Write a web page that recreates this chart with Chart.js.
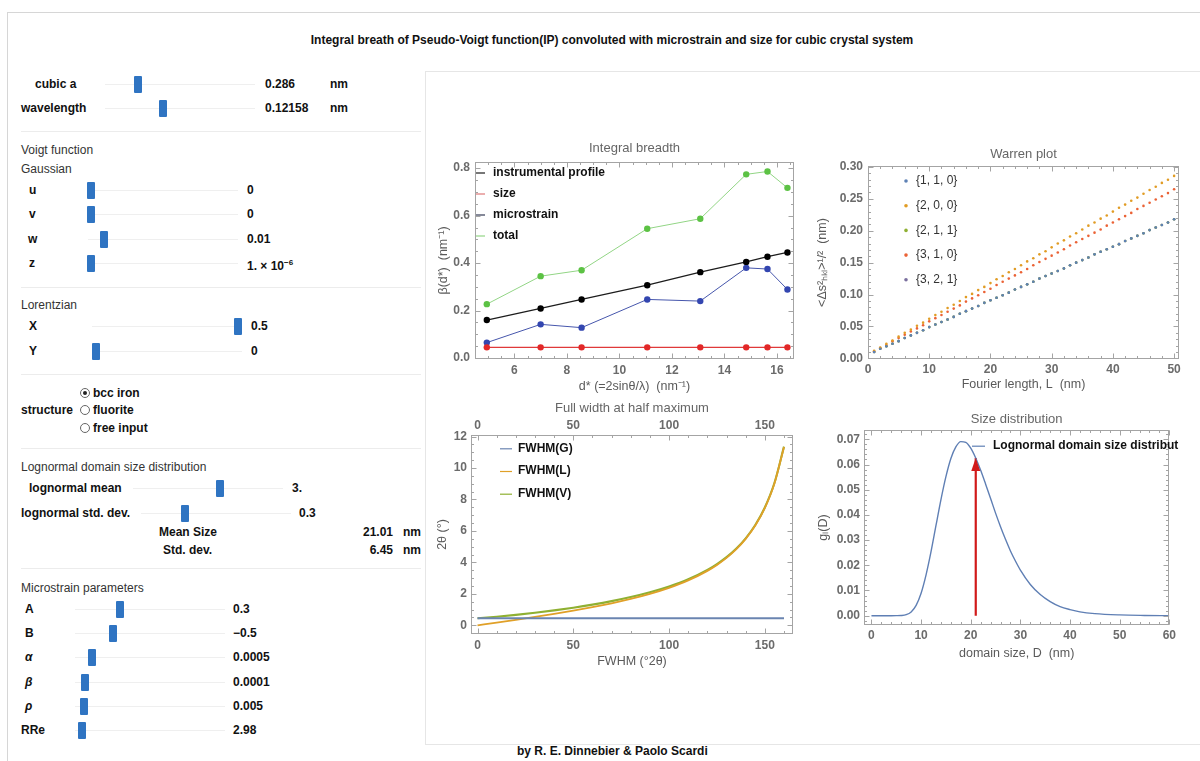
<!DOCTYPE html>
<html>
<head>
<meta charset="utf-8">
<title>Integral breadth of Pseudo-Voigt function</title>
<script src="https://cdn.jsdelivr.net/npm/chart.js@4.4.1/dist/chart.umd.min.js"></script>
<style>
  html, body { margin: 0; padding: 0; background: #fff; }
  body { width: 1200px; height: 761px; position: relative; overflow: hidden;
         font-family: 'Liberation Sans', Arial, sans-serif; color: #111; }
  .a { position: absolute; white-space: nowrap; }
  .b { font-weight: bold; font-size: 12px; line-height: 14px; }
  .h { font-size: 12px; line-height: 14px; color: #333; }
  .track { height: 1px; background: #efefef; }
  .knob { width: 8px; height: 17px; background: #2f74c2; border-radius: 1px; }
  .sep { left: 21px; width: 400px; height: 0; border-top: 1px solid #ececec; }
  .radio { width: 10px; height: 10px; border: 1px solid #666; border-radius: 50%; box-sizing: border-box; }
  .radio.on::after { content: ''; position: absolute; left: 2px; top: 2px; width: 4px; height: 4px; border-radius: 50%; background: #222; }
  #frameTop { left: 7px; top: 12px; width: 1200px; border-top: 1px solid #d6d6d6; }
  #frameLeft { left: 7px; top: 12px; height: 760px; border-left: 1px solid #d6d6d6; }
  #title { left: 300px; width: 624px; top: 33px; text-align: center; font-weight: bold; font-size: 12px; }
  #panel { left: 425px; top: 71px; width: 790px; height: 672px; border: 1px solid #e6e6e6; }
  #credit { left: 517px; top: 744px; font-weight: bold; font-size: 12px; }
  canvas { position: absolute; }
</style>
</head>
<body>
<div id="frameTop" class="a"></div>
<div id="frameLeft" class="a"></div>
<div id="title" class="a">Integral breath of Pseudo-Voigt function(IP) convoluted with microstrain and size for cubic crystal system</div>
<div id="panel" class="a"></div>

<!-- lattice and radiation -->
<div class="a b" style="left:35px;top:77px">cubic a</div>
<div class="a track" style="left:105px;top:84px;width:150px"></div>
<div class="a knob" style="left:134px;top:76px"></div>
<div class="a b" style="left:265px;top:77px">0.286</div>
<div class="a b" style="left:330px;top:77px">nm</div>
<div class="a b" style="left:21px;top:101px">wavelength</div>
<div class="a track" style="left:105px;top:108px;width:150px"></div>
<div class="a knob" style="left:159px;top:100px"></div>
<div class="a b" style="left:265px;top:101px">0.12158</div>
<div class="a b" style="left:330px;top:101px">nm</div>
<div class="a sep" style="top:131px"></div>

<!-- Voigt function -->
<div class="a h" style="left:21px;top:143px">Voigt function</div>
<div class="a h" style="left:21px;top:162px">Gaussian</div>
<div class="a b" style="left:29px;top:183px">u</div>
<div class="a track" style="left:88px;top:190px;width:150px"></div>
<div class="a knob" style="left:87px;top:182px"></div>
<div class="a b" style="left:247px;top:183px">0</div>
<div class="a b" style="left:29px;top:207px">v</div>
<div class="a track" style="left:88px;top:214px;width:150px"></div>
<div class="a knob" style="left:87px;top:206px"></div>
<div class="a b" style="left:247px;top:207px">0</div>
<div class="a b" style="left:28px;top:232px">w</div>
<div class="a track" style="left:88px;top:239px;width:150px"></div>
<div class="a knob" style="left:100px;top:231px"></div>
<div class="a b" style="left:247px;top:232px">0.01</div>
<div class="a b" style="left:29px;top:256px">z</div>
<div class="a track" style="left:88px;top:263px;width:150px"></div>
<div class="a knob" style="left:87px;top:255px"></div>
<div class="a b" style="left:247px;top:256px">1. × 10<sup style="font-size:8px">−6</sup></div>
<div class="a sep" style="top:287px"></div>

<div class="a h" style="left:21px;top:298px">Lorentzian</div>
<div class="a b" style="left:29px;top:319px">X</div>
<div class="a track" style="left:92px;top:326px;width:150px"></div>
<div class="a knob" style="left:234px;top:318px"></div>
<div class="a b" style="left:251px;top:319px">0.5</div>
<div class="a b" style="left:29px;top:344px">Y</div>
<div class="a track" style="left:92px;top:351px;width:150px"></div>
<div class="a knob" style="left:92px;top:343px"></div>
<div class="a b" style="left:251px;top:344px">0</div>
<div class="a sep" style="top:374px"></div>

<!-- crystal structure -->
<div class="a b" style="left:21px;top:403px">structure</div>
<div class="a radio on" style="left:80px;top:388px"></div>
<div class="a b" style="left:93px;top:386px">bcc iron</div>
<div class="a radio" style="left:80px;top:405px"></div>
<div class="a b" style="left:93px;top:403px">fluorite</div>
<div class="a radio" style="left:80px;top:423px"></div>
<div class="a b" style="left:93px;top:421px">free input</div>
<div class="a sep" style="top:448px"></div>

<!-- lognormal size distribution -->
<div class="a h" style="left:21px;top:460px">Lognormal domain size distribution</div>
<div class="a b" style="left:29px;top:481px">lognormal mean</div>
<div class="a track" style="left:133px;top:488px;width:150px"></div>
<div class="a knob" style="left:216px;top:480px"></div>
<div class="a b" style="left:292px;top:481px">3.</div>
<div class="a b" style="left:21px;top:506px">lognormal std. dev.</div>
<div class="a track" style="left:141px;top:513px;width:150px"></div>
<div class="a knob" style="left:181px;top:505px"></div>
<div class="a b" style="left:299px;top:506px">0.3</div>
<div class="a b" style="left:159px;top:525px">Mean Size</div>
<div class="a b" style="left:333px;top:525px;width:60px;text-align:right">21.01</div>
<div class="a b" style="left:403px;top:525px">nm</div>
<div class="a b" style="left:163px;top:543px">Std. dev.</div>
<div class="a b" style="left:333px;top:543px;width:60px;text-align:right">6.45</div>
<div class="a b" style="left:403px;top:543px">nm</div>
<div class="a sep" style="top:568px"></div>

<!-- microstrain -->
<div class="a h" style="left:21px;top:581px">Microstrain parameters</div>
<div class="a b" style="left:25px;top:602px">A</div>
<div class="a track" style="left:75px;top:609px;width:150px"></div>
<div class="a knob" style="left:116px;top:601px"></div>
<div class="a b" style="left:233px;top:602px">0.3</div>
<div class="a b" style="left:25px;top:626px">B</div>
<div class="a track" style="left:75px;top:633px;width:150px"></div>
<div class="a knob" style="left:109px;top:625px"></div>
<div class="a b" style="left:233px;top:626px">−0.5</div>
<div class="a b" style="left:25px;top:650px;font-style:italic">α</div>
<div class="a track" style="left:75px;top:657px;width:150px"></div>
<div class="a knob" style="left:88px;top:649px"></div>
<div class="a b" style="left:233px;top:650px">0.0005</div>
<div class="a b" style="left:25px;top:675px;font-style:italic">β</div>
<div class="a track" style="left:75px;top:682px;width:150px"></div>
<div class="a knob" style="left:81px;top:674px"></div>
<div class="a b" style="left:233px;top:675px">0.0001</div>
<div class="a b" style="left:25px;top:699px;font-style:italic">ρ</div>
<div class="a track" style="left:75px;top:706px;width:150px"></div>
<div class="a knob" style="left:80px;top:698px"></div>
<div class="a b" style="left:233px;top:699px">0.005</div>
<div class="a b" style="left:21px;top:723px">RRe</div>
<div class="a track" style="left:75px;top:730px;width:150px"></div>
<div class="a knob" style="left:78px;top:722px"></div>
<div class="a b" style="left:233px;top:723px">2.98</div>

<canvas id="cBreadth" width="370" height="262" style="left:430px;top:138px"></canvas>
<canvas id="cWarren" width="385" height="262" style="left:800px;top:138px"></canvas>
<canvas id="cFwhm" width="370" height="272" style="left:430px;top:398px"></canvas>
<canvas id="cSize" width="379" height="265" style="left:800px;top:405px"></canvas>

<div id="credit" class="a">by R. E. Dinnebier &amp; Paolo Scardi</div>

<script>
// ---- integral breadths of the bcc iron reflections (nm^-1) ----
const dStar      = [4.95, 7.0, 8.56, 11.06, 13.08, 14.83, 15.64, 16.4];
const betaInstr  = [0.160, 0.209, 0.247, 0.307, 0.362, 0.405, 0.427, 0.445];
const betaSize   = [0.045, 0.045, 0.045, 0.045, 0.045, 0.045, 0.045, 0.045];
const betaStrain = [0.065, 0.142, 0.128, 0.247, 0.240, 0.380, 0.375, 0.289];
const betaTotal  = [0.227, 0.345, 0.370, 0.545, 0.587, 0.774, 0.786, 0.717];

// ---- Warren plot: rms strain vs Fourier length ----
const fourierL = [1, 2, 3, 4, 5, 6, 7, 8, 9, 10, 11, 12, 13, 14, 15, 16, 17, 18, 19, 20,
  21, 22, 23, 24, 25, 26, 27, 28, 29, 30, 31, 32, 33, 34, 35, 36, 37, 38, 39, 40,
  41, 42, 43, 44, 45, 46, 47, 48, 49, 50];
// {1,1,0}, {2,1,1} and {3,2,1} share the same contrast factor
const warren110 = [0.010, 0.015, 0.019, 0.023, 0.027, 0.032, 0.036, 0.040, 0.044, 0.049,
  0.053, 0.057, 0.061, 0.065, 0.070, 0.074, 0.078, 0.082, 0.087, 0.091,
  0.095, 0.099, 0.103, 0.108, 0.112, 0.116, 0.120, 0.125, 0.129, 0.133,
  0.137, 0.141, 0.146, 0.150, 0.154, 0.158, 0.163, 0.167, 0.171, 0.175,
  0.179, 0.184, 0.188, 0.192, 0.196, 0.201, 0.205, 0.209, 0.213, 0.218];
const warren200 = [0.012, 0.017, 0.023, 0.028, 0.034, 0.040, 0.045, 0.051, 0.056, 0.062,
  0.068, 0.073, 0.079, 0.084, 0.090, 0.096, 0.101, 0.107, 0.112, 0.118,
  0.124, 0.129, 0.135, 0.140, 0.146, 0.152, 0.157, 0.163, 0.168, 0.174,
  0.180, 0.185, 0.191, 0.196, 0.202, 0.208, 0.213, 0.219, 0.224, 0.230,
  0.236, 0.241, 0.247, 0.252, 0.258, 0.264, 0.269, 0.275, 0.280, 0.286];
const warren211 = warren110;
const warren310 = [0.011, 0.016, 0.021, 0.027, 0.032, 0.037, 0.042, 0.047, 0.052, 0.058,
  0.063, 0.068, 0.073, 0.078, 0.083, 0.089, 0.094, 0.099, 0.104, 0.109,
  0.115, 0.120, 0.125, 0.130, 0.135, 0.140, 0.146, 0.151, 0.156, 0.161,
  0.166, 0.171, 0.177, 0.182, 0.187, 0.192, 0.197, 0.202, 0.208, 0.213,
  0.218, 0.223, 0.228, 0.234, 0.239, 0.244, 0.249, 0.254, 0.259, 0.265];
const warren321 = warren110;

// ---- FWHM of the Gaussian, Lorentzian and Voigt components (deg 2theta) ----
const twoTheta = [0, 10, 20, 30, 40, 50, 60, 70, 80, 90, 100, 110, 120, 125, 130, 135, 140, 145, 150, 155, 160];
const fwhmG = [0.45, 0.45, 0.45, 0.45, 0.45, 0.45, 0.45, 0.45, 0.45, 0.45, 0.45,
  0.45, 0.45, 0.45, 0.45, 0.45, 0.45, 0.45, 0.45, 0.45, 0.45];
const fwhmL = [0, 0.175, 0.353, 0.536, 0.728, 0.933, 1.155, 1.400, 1.678, 2.000, 2.384,
  2.856, 3.464, 3.842, 4.290, 4.828, 5.495, 6.343, 7.464, 9.021, 11.343];
const fwhmV = [0.45, 0.551, 0.668, 0.801, 0.952, 1.124, 1.319, 1.540, 1.798, 2.103, 2.472,
  2.930, 3.526, 3.898, 4.340, 4.873, 5.534, 6.377, 7.493, 9.045, 11.362];

// ---- lognormal domain size distribution ----
const domainD = [0, 1, 2, 3, 4, 5, 6, 7, 8, 9, 10, 11, 12, 13, 14, 15, 16, 17, 18, 19, 20,
  21, 22, 23, 24, 25, 26, 27, 28, 29, 30, 32, 34, 36, 38, 40, 42, 45, 50, 55, 60];
const gD = [0, 0, 0, 0, 0, 0.00001, 0.00007, 0.0004, 0.0015, 0.0041, 0.0089, 0.0162, 0.0254,
  0.0358, 0.0461, 0.0552, 0.0624, 0.0670, 0.0691, 0.0688, 0.0665, 0.0626, 0.0577, 0.0522,
  0.0465, 0.0407, 0.0353, 0.0303, 0.0257, 0.0217, 0.0181, 0.0124, 0.0084, 0.0056, 0.0036,
  0.0024, 0.0015, 0.0008, 0.0003, 0.0001, 0];
const meanSize = 21.01;
const gAtMean = 0.0626;

// ------------------------------------------------------------
const FONT = "'Liberation Sans', Arial, sans-serif";
Chart.defaults.font.family = FONT;
Chart.defaults.animation = false;

const pts = (xs, ys) => xs.map((x, i) => ({ x, y: ys[i] }));

// Mathematica-like frame: grey box, inward major/minor ticks on all sides,
// plot title, legend inside the frame and an optional arrow head.
const decor = {
  id: 'decor',
  afterDraw(chart, _args, o) {
    if (!o.minor) return;
    const { ctx, chartArea: a } = chart;
    ctx.save();
    ctx.font = '13px ' + FONT;
    ctx.fillStyle = '#666';
    ctx.textAlign = 'center';
    ctx.textBaseline = 'middle';
    ctx.fillText(o.title, (a.left + a.right) / 2, o.titleY);

    const L = Math.round(a.left) + 0.5, R = Math.round(a.right) - 0.5;
    const T = Math.round(a.top) + 0.5, B = Math.round(a.bottom) - 0.5;
    ctx.strokeStyle = '#a4a4a4';
    ctx.lineWidth = 1;
    ctx.strokeRect(L, T, R - L, B - T);
    const mark = (s, v, len) => {
      const p = Math.round(s.getPixelForValue(v)) + 0.5;
      ctx.beginPath();
      if (s.isHorizontal()) {
        ctx.moveTo(p, B); ctx.lineTo(p, B - len);
        ctx.moveTo(p, T); ctx.lineTo(p, T + len);
      } else {
        ctx.moveTo(L, p); ctx.lineTo(L + len, p);
        ctx.moveTo(R, p); ctx.lineTo(R - len, p);
      }
      ctx.stroke();
    };
    ['x', 'y'].forEach(id => {
      const s = chart.scales[id], step = o.minor[id];
      for (let k = Math.ceil(s.min / step); k * step <= s.max; k++) mark(s, k * step, 2.5);
      s.ticks.forEach(t => mark(s, t.value, 5));
    });

    if (o.arrow !== undefined) {
      const el = chart.getDatasetMeta(o.arrow).data;
      const tip = el[el.length - 1];
      ctx.fillStyle = '#d11a1a';
      ctx.beginPath();
      ctx.moveTo(tip.x, tip.y);
      ctx.lineTo(tip.x - 4.5, tip.y + 13);
      ctx.lineTo(tip.x + 4.5, tip.y + 13);
      ctx.closePath();
      ctx.fill();
    }

    const lg = o.legend;
    ctx.font = lg.font;
    ctx.textAlign = 'left';
    let row = 0;
    chart.data.datasets.forEach(ds => {
      if (ds.noLegend) return;
      const x = a.left + lg.x, y = a.top + lg.y + row * lg.dy;
      if (lg.kind === 'dot') {
        ctx.fillStyle = ds.pointBackgroundColor;
        ctx.beginPath(); ctx.arc(x, y, 1.8, 0, Math.PI * 2); ctx.fill();
      } else {
        ctx.strokeStyle = ds.legendColor || ds.borderColor;
        ctx.lineWidth = 1.2;
        ctx.beginPath(); ctx.moveTo(x, y + 0.5); ctx.lineTo(x + lg.len, y + 0.5); ctx.stroke();
      }
      ctx.fillStyle = lg.color;
      ctx.fillText(ds.label, x + lg.textX, y);
      row++;
    });
    ctx.restore();
  }
};
Chart.register(decor);

function axis(c) {
  return {
    type: 'linear',
    position: c.position,
    min: c.min, max: c.max,
    grid: { display: false, drawTicks: false },
    border: { display: false },
    ticks: {
      stepSize: c.step, includeBounds: false, color: '#6b6b6b', padding: c.pad,
      font: { size: 12, weight: 'bold' },
      callback: v => v.toFixed(c.digits)
    },
    title: {
      display: !!c.title, text: c.title, color: '#5a5a5a',
      font: { size: 12.5 }, padding: { top: c.tPad || 0, bottom: c.tPad || 0 }
    },
    afterFit: s => { if (s.isHorizontal()) s.height = c.size; else s.width = c.size; }
  };
}

const baseOptions = (padding, scales, decorOpts) => ({
  responsive: false,
  devicePixelRatio: 1,
  layout: { padding },
  scales,
  plugins: { legend: { display: false }, tooltip: { enabled: false }, decor: decorOpts }
});

// Integral breadth vs d*
new Chart(document.getElementById('cBreadth'), {
  type: 'scatter',
  data: { datasets: [
    { label: 'instrumental profile', data: pts(dStar, betaInstr), showLine: true,
      borderColor: '#1c1c1c', borderWidth: 1.2, pointBackgroundColor: '#000', pointBorderWidth: 0, pointRadius: 3.2 },
    { label: 'size', data: pts(dStar, betaSize), showLine: true,
      borderColor: '#e03a3a', legendColor: '#d77', borderWidth: 1.3, pointBackgroundColor: '#e22828', pointBorderWidth: 0, pointRadius: 3.2 },
    { label: 'microstrain', data: pts(dStar, betaStrain), showLine: true,
      borderColor: '#4656ac', legendColor: '#333a55', borderWidth: 1, pointBackgroundColor: '#3346b0', pointBorderWidth: 0, pointRadius: 3.2 },
    { label: 'total', data: pts(dStar, betaTotal), showLine: true,
      borderColor: '#92d585', borderWidth: 1, pointBackgroundColor: '#5cc244', pointBorderWidth: 0, pointRadius: 3.2 }
  ]},
  options: baseOptions({ top: 24, right: 6, left: 0, bottom: 0 }, {
    x: axis({ position: 'bottom', min: 4.5, max: 16.65, step: 2, digits: 0, size: 41, pad: 4,
              title: 'd* (=2sinθ/λ)  (nm⁻¹)', tPad: 6 }),
    y: axis({ position: 'left', min: -0.004, max: 0.826, step: 0.2, digits: 1, size: 45, pad: 5,
              title: 'β(d*)  (nm⁻¹)', tPad: 6 })
  }, {
    title: 'Integral breadth', titleY: 10, minor: { x: 0.5, y: 0.05 },
    legend: { kind: 'line', x: 1, y: 10.5, dy: 21, len: 9, textX: 17, font: 'bold 12px ' + FONT, color: '#111' }
  })
});

// Warren plot
const warrenSet = (label, ys, color) => ({
  label, data: pts(fourierL, ys), showLine: false,
  pointRadius: 1.3, pointBorderWidth: 0, pointBackgroundColor: color
});
new Chart(document.getElementById('cWarren'), {
  type: 'scatter',
  data: { datasets: [
    warrenSet('{1, 1, 0}', warren110, '#5e81b5'),
    warrenSet('{2, 0, 0}', warren200, '#e19c24'),
    warrenSet('{2, 1, 1}', warren211, '#8fb032'),
    warrenSet('{3, 1, 0}', warren310, '#eb6235'),
    warrenSet('{3, 2, 1}', warren321, '#7a6f9e')
  ]},
  options: baseOptions({ top: 28, right: 6, left: 0, bottom: 0 }, {
    x: axis({ position: 'bottom', min: 0, max: 50.8, step: 10, digits: 0, size: 41, pad: 3,
              title: 'Fourier length, L  (nm)', tPad: 8 }),
    y: axis({ position: 'left', min: -0.001, max: 0.3015, step: 0.05, digits: 2, size: 68, pad: 5,
              title: '<Δs²ₕₖₗ>¹/²  (nm)', tPad: 15 })
  }, {
    title: 'Warren plot', titleY: 16, minor: { x: 2, y: 0.01 },
    legend: { kind: 'dot', x: 38, y: 15, dy: 24.7, textX: 10, font: '12px ' + FONT, color: '#333' }
  })
});

// FWHM of the profile components
const fwhmSet = (label, ys, color, width) => ({
  label, data: pts(twoTheta, ys), showLine: true, borderColor: color, borderWidth: width,
  pointRadius: 0, cubicInterpolationMode: 'monotone'
});
const fwhmScales = {
  x: axis({ position: 'bottom', min: -3.4, max: 164.7, step: 50, digits: 0, size: 36, pad: 4,
            title: 'FWHM (°2θ)', tPad: 1 }),
  x2: axis({ position: 'top', min: -3.4, max: 164.7, step: 50, digits: 0, size: 20, pad: 2 }),
  y: axis({ position: 'left', min: -0.55, max: 12.1, step: 2, digits: 0, size: 41, pad: 4,
            title: '2θ (°)', tPad: 5 })
};
new Chart(document.getElementById('cFwhm'), {
  type: 'scatter',
  data: { datasets: [
    fwhmSet('FWHM(G)', fwhmG, '#6a84b0', 1.8),
    fwhmSet('FWHM(L)', fwhmL, '#e0a028', 1.8),
    fwhmSet('FWHM(V)', fwhmV, '#8fb032', 2.1)
  ]},
  options: baseOptions({ top: 17, right: 7, left: 0, bottom: 0 }, fwhmScales, {
    title: 'Full width at half maximum', titleY: 10, minor: { x: 10, y: 0.5 },
    legend: { kind: 'line', x: 29, y: 13.3, dy: 22.7, len: 12, textX: 18, font: 'bold 12px ' + FONT, color: '#111' }
  })
});

// Lognormal size distribution with the mean size marked
new Chart(document.getElementById('cSize'), {
  type: 'scatter',
  data: { datasets: [
    { label: 'Lognormal domain size distribution', data: pts(domainD, gD), showLine: true,
      borderColor: '#5f7fb4', borderWidth: 1.4, pointRadius: 0, cubicInterpolationMode: 'monotone' },
    { label: 'mean size', noLegend: true, data: [{ x: meanSize, y: 0 }, { x: meanSize, y: gAtMean }],
      showLine: true, borderColor: '#d11a1a', borderWidth: 2.2, pointRadius: 0 }
  ]},
  options: baseOptions({ top: 25, right: 7, left: 0, bottom: 0 }, {
    x: axis({ position: 'bottom', min: -1.5, max: 60, step: 10, digits: 0, size: 45, pad: 3,
              title: 'domain size, D  (nm)', tPad: 9 }),
    y: axis({ position: 'left', min: -0.0037, max: 0.0737, step: 0.01, digits: 2, size: 64, pad: 4,
              title: 'gₗ(D)', tPad: 16 })
  }, {
    title: 'Size distribution', titleY: 14, minor: { x: 2, y: 0.002 }, arrow: 1,
    legend: { kind: 'line', x: 108, y: 15.7, dy: 22, len: 13, textX: 21, font: 'bold 12px ' + FONT, color: '#111' }
  })
});
</script>
</body>
</html>
